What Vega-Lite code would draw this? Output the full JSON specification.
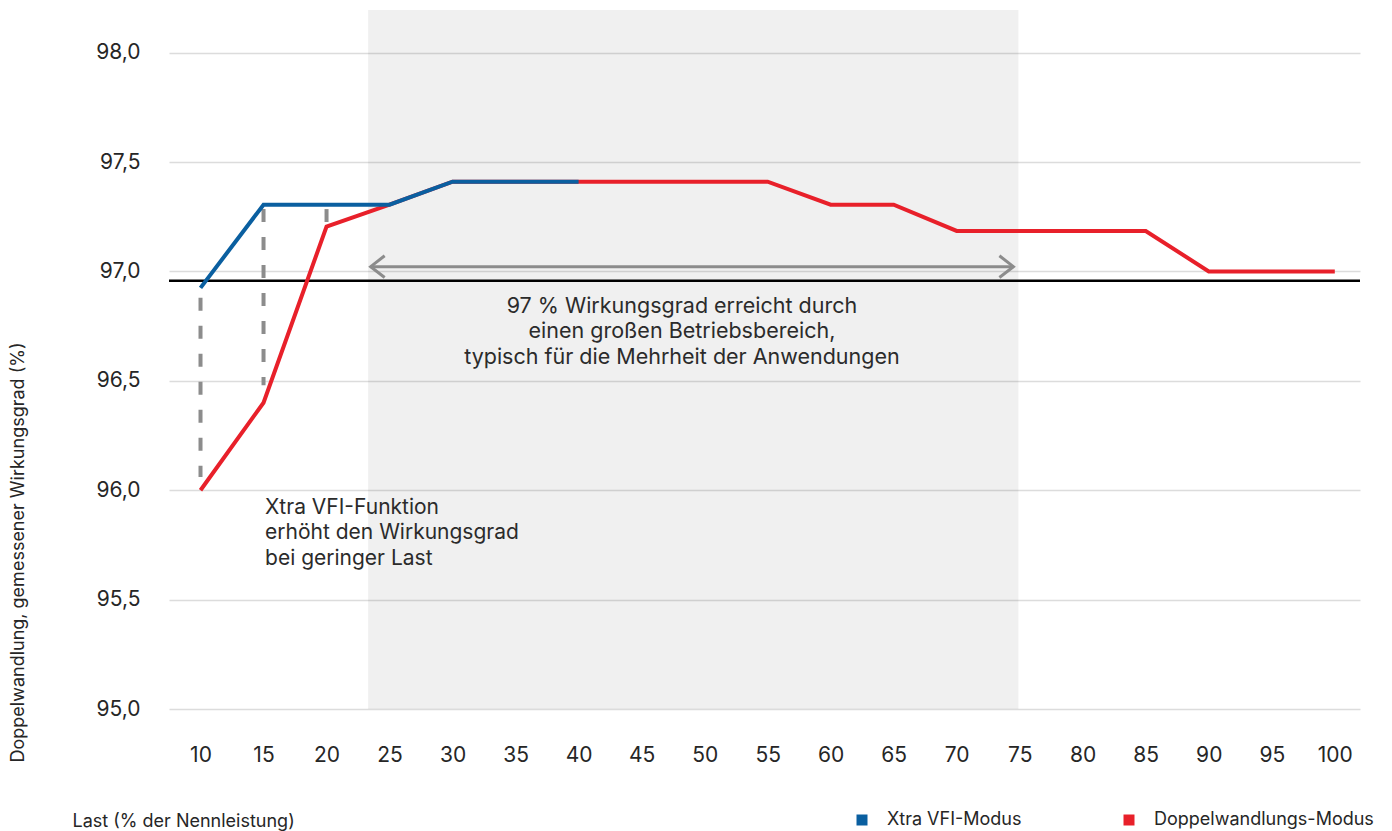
{
  "$schema": "https://vega.github.io/schema/vega-lite/v6.json",
  "width": 1191,
  "height": 699,
  "autosize": {"type": "none"},
  "padding": {"left": 169, "top": 10, "right": 32, "bottom": 122},
  "background": "#ffffff",
  "config": {
    "font": "Inter",
    "view": {"stroke": null},
    "axis": {"labelColor": "#262626", "titleColor": "#262626", "titleFontWeight": "normal"}
  },
  "data": {"values": [{"one": 1}]},
  "datasets": {
    "eff": [
      {"load": 10, "eff": 96.0, "mode": "Doppelwandlungs-Modus"},
      {"load": 15, "eff": 96.4, "mode": "Doppelwandlungs-Modus"},
      {"load": 20, "eff": 97.205, "mode": "Doppelwandlungs-Modus"},
      {"load": 25, "eff": 97.305, "mode": "Doppelwandlungs-Modus"},
      {"load": 30, "eff": 97.41, "mode": "Doppelwandlungs-Modus"},
      {"load": 35, "eff": 97.41, "mode": "Doppelwandlungs-Modus"},
      {"load": 40, "eff": 97.41, "mode": "Doppelwandlungs-Modus"},
      {"load": 45, "eff": 97.41, "mode": "Doppelwandlungs-Modus"},
      {"load": 50, "eff": 97.41, "mode": "Doppelwandlungs-Modus"},
      {"load": 55, "eff": 97.41, "mode": "Doppelwandlungs-Modus"},
      {"load": 60, "eff": 97.305, "mode": "Doppelwandlungs-Modus"},
      {"load": 65, "eff": 97.305, "mode": "Doppelwandlungs-Modus"},
      {"load": 70, "eff": 97.185, "mode": "Doppelwandlungs-Modus"},
      {"load": 75, "eff": 97.185, "mode": "Doppelwandlungs-Modus"},
      {"load": 80, "eff": 97.185, "mode": "Doppelwandlungs-Modus"},
      {"load": 85, "eff": 97.185, "mode": "Doppelwandlungs-Modus"},
      {"load": 90, "eff": 97.0, "mode": "Doppelwandlungs-Modus"},
      {"load": 95, "eff": 97.0, "mode": "Doppelwandlungs-Modus"},
      {"load": 100, "eff": 97.0, "mode": "Doppelwandlungs-Modus"},
      {"load": 10, "eff": 96.925, "mode": "Xtra VFI-Modus"},
      {"load": 15, "eff": 97.305, "mode": "Xtra VFI-Modus"},
      {"load": 20, "eff": 97.305, "mode": "Xtra VFI-Modus"},
      {"load": 25, "eff": 97.305, "mode": "Xtra VFI-Modus"},
      {"load": 30, "eff": 97.41, "mode": "Xtra VFI-Modus"},
      {"load": 35, "eff": 97.41, "mode": "Xtra VFI-Modus"},
      {"load": 40, "eff": 97.41, "mode": "Xtra VFI-Modus"}
    ],
    "guides": [
      {"load": 10, "top": 96.88, "bottom": 96.06},
      {"load": 15, "top": 97.285, "bottom": 96.48},
      {"load": 20, "top": 97.285, "bottom": 97.226}
    ]
  },
  "layer": [
    {
      "mark": {"type": "rect", "color": "#000000", "opacity": 0.059},
      "encoding": {
        "x": {
          "datum": 23.3, "type": "quantitative",
          "scale": {"domain": [7.5, 102], "nice": false, "zero": false},
          "axis": {
            "values": [10, 15, 20, 25, 30, 35, 40, 45, 50, 55, 60, 65, 70, 75, 80, 85, 90, 95, 100],
            "grid": false, "domain": false, "ticks": false,
            "labelPadding": 35, "labelFontSize": 21,
            "titleFontSize": 18, "titleX": -97, "titleY": 112, "titleAlign": "left", "titleBaseline": "middle"
          },
          "title": "Last (% der Nennleistung)"
        },
        "x2": {"datum": 74.9},
        "y": {
          "datum": 95, "type": "quantitative",
          "scale": {"domain": [95, 98.195], "nice": false, "zero": false},
          "axis": {
            "values": [95, 95.5, 96, 96.5, 97, 97.5, 98],
            "labelExpr": "replace(format(datum.value, '.1f'), '.', ',')",
            "grid": true, "gridColor": "#dcdcdc", "gridWidth": 1.5,
            "domain": false, "ticks": false,
            "labelPadding": 29, "labelFontSize": 21,
            "titleFontSize": 18, "titleX": -151, "titleY": 542, "titleAngle": -90,
            "titleAlign": "center", "titleBaseline": "middle"
          },
          "title": "Doppelwandlung, gemessener Wirkungsgrad (%)"
        },
        "y2": {"datum": 98.195}
      }
    },
    {
      "mark": {"type": "rule", "color": "#000000", "strokeWidth": 2.5},
      "encoding": {
        "y": {"datum": 96.958, "type": "quantitative"}
      }
    },
    {
      "data": {"name": "guides"},
      "mark": {"type": "rule", "color": "#8c8c8c", "strokeWidth": 4, "strokeDash": [13, 15]},
      "encoding": {
        "x": {"field": "load", "type": "quantitative", "title": "Last (% der Nennleistung)"},
        "y": {"field": "top", "type": "quantitative", "title": "Doppelwandlung, gemessener Wirkungsgrad (%)"},
        "y2": {"field": "bottom"}
      }
    },
    {
      "mark": {"type": "rule", "color": "#8c8c8c", "strokeWidth": 3},
      "encoding": {
        "x": {"datum": 23.5, "type": "quantitative"},
        "x2": {"datum": 74.5},
        "y": {"datum": 97.022, "type": "quantitative"}
      }
    },
    {
      "mark": {"type": "point", "shape": "M1,-0.78L0,0L1,0.78", "filled": false, "stroke": "#8c8c8c", "strokeWidth": 3, "size": 784, "opacity": 1},
      "encoding": {
        "x": {"datum": 23.5, "type": "quantitative"},
        "y": {"datum": 97.022, "type": "quantitative"}
      }
    },
    {
      "mark": {"type": "point", "shape": "M-1,-0.78L0,0L-1,0.78", "filled": false, "stroke": "#8c8c8c", "strokeWidth": 3, "size": 784, "opacity": 1},
      "encoding": {
        "x": {"datum": 74.5, "type": "quantitative"},
        "y": {"datum": 97.022, "type": "quantitative"}
      }
    },
    {
      "data": {"name": "eff"},
      "transform": [{"filter": "datum.mode === 'Doppelwandlungs-Modus'"}],
      "mark": {"type": "line", "strokeWidth": 4, "strokeCap": "butt"},
      "encoding": {
        "x": {"field": "load", "type": "quantitative", "title": "Last (% der Nennleistung)"},
        "y": {"field": "eff", "type": "quantitative", "title": "Doppelwandlung, gemessener Wirkungsgrad (%)"},
        "color": {
          "field": "mode", "type": "nominal",
          "scale": {"domain": ["Xtra VFI-Modus", "Doppelwandlungs-Modus"], "range": ["#0a5fa0", "#e8202a"]},
          "legend": {
            "orient": "none", "legendX": 684, "legendY": 801, "direction": "horizontal",
            "title": null, "symbolType": "square", "symbolSize": 121,
            "labelFontSize": 18, "labelColor": "#262626", "labelOffset": 16, "columnPadding": 98,
            "labelLimit": 400, "symbolStrokeWidth": 0,
            "encode": {"symbols": {"update": {"fill": {"scale": "color", "field": "value"}, "opacity": {"value": 1}}}}
          }
        }
      }
    },
    {
      "data": {"name": "eff"},
      "transform": [{"filter": "datum.mode === 'Xtra VFI-Modus'"}],
      "mark": {"type": "line", "strokeWidth": 4, "strokeCap": "butt"},
      "encoding": {
        "x": {"field": "load", "type": "quantitative", "title": "Last (% der Nennleistung)"},
        "y": {"field": "eff", "type": "quantitative", "title": "Doppelwandlung, gemessener Wirkungsgrad (%)"},
        "color": {"field": "mode", "type": "nominal"}
      }
    },
    {
      "mark": {
        "type": "text", "align": "center", "baseline": "middle", "fontSize": 21.5, "lineHeight": 25.5, "color": "#2b2b2b",
        "text": ["97 % Wirkungsgrad erreicht durch", "einen großen Betriebsbereich,", "typisch für die Mehrheit der Anwendungen"]
      },
      "encoding": {
        "x": {"datum": 48.2, "type": "quantitative"},
        "y": {"datum": 96.838, "type": "quantitative"}
      }
    },
    {
      "mark": {
        "type": "text", "align": "left", "baseline": "middle", "fontSize": 21, "lineHeight": 25.5, "color": "#2b2b2b",
        "text": ["Xtra VFI-Funktion", "erhöht den Wirkungsgrad", "bei geringer Last"]
      },
      "encoding": {
        "x": {"datum": 15.12, "type": "quantitative"},
        "y": {"datum": 95.92, "type": "quantitative"}
      }
    }
  ]
}
